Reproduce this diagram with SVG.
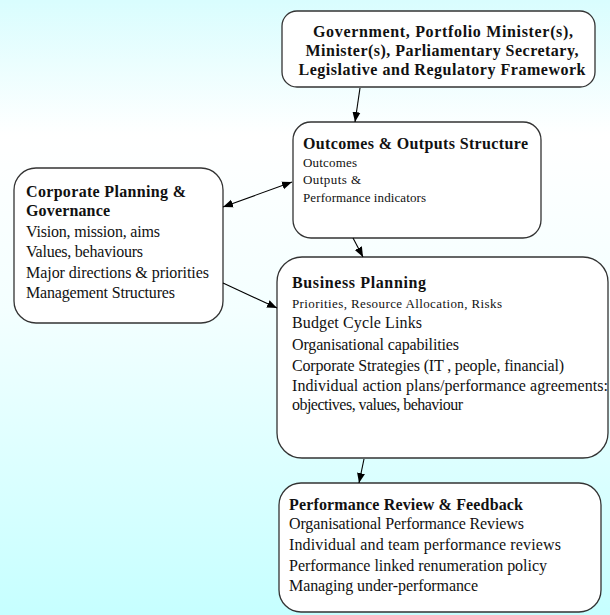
<svg xmlns="http://www.w3.org/2000/svg" width="610" height="615" viewBox="0 0 610 615">
  <defs>
    <linearGradient id="bg" x1="0" y1="0" x2="0" y2="1">
      <stop offset="0" stop-color="#d9fdfe"/>
      <stop offset="0.22" stop-color="#ffffff"/>
      <stop offset="0.5" stop-color="#f4ffff"/>
      <stop offset="0.75" stop-color="#ddffff"/>
      <stop offset="1" stop-color="#c6ffff"/>
    </linearGradient>
    <marker id="head" viewBox="0 0 10 10" refX="10" refY="5" markerWidth="10" markerHeight="10" markerUnits="userSpaceOnUse" orient="auto-start-reverse">
      <path d="M0,1 L10,5 L0,9 Z" fill="#000"/>
    </marker>
    <style>
      .box { fill: #ffffff; stroke: #333333; stroke-width: 1.3; }
      .t { font-family: "Liberation Serif", "Times New Roman", serif; font-size: 16px; fill: #111111; }
      .b { font-weight: bold; }
      .s { font-size: 13px; }
      .link { stroke: #000; stroke-width: 1.1; fill: none; marker-end: url(#head); }
      .both { marker-start: url(#head); }
    </style>
  </defs>

  <rect x="0" y="0" width="610" height="615" fill="url(#bg)"/>

  <g id="government">
    <rect class="box" x="282" y="11" width="313" height="76" rx="15"/>
    <text class="t b" x="443" y="37" text-anchor="middle" textLength="260" lengthAdjust="spacing">Government, Portfolio Minister(s),</text>
    <text class="t b" x="442" y="56" text-anchor="middle" textLength="273" lengthAdjust="spacing">Minister(s), Parliamentary Secretary,</text>
    <text class="t b" x="442" y="75" text-anchor="middle" textLength="287" lengthAdjust="spacing">Legislative and Regulatory Framework</text>
  </g>

  <g id="outcomes">
    <rect class="box" x="293" y="122" width="248" height="116" rx="18"/>
    <text class="t b" x="303" y="149" textLength="225" lengthAdjust="spacing">Outcomes &amp; Outputs Structure</text>
    <text class="t s" x="303" y="167" textLength="54" lengthAdjust="spacing">Outcomes</text>
    <text class="t s" x="303" y="184" textLength="58" lengthAdjust="spacing">Outputs &amp;</text>
    <text class="t s" x="303" y="202" textLength="123" lengthAdjust="spacing">Performance indicators</text>
  </g>

  <g id="corporate">
    <rect class="box" x="14" y="168" width="209" height="155" rx="22"/>
    <text class="t b" x="26" y="197" textLength="160" lengthAdjust="spacing">Corporate Planning &amp;</text>
    <text class="t b" x="26" y="216" textLength="84" lengthAdjust="spacing">Governance</text>
    <text class="t" x="26" y="237" textLength="134" lengthAdjust="spacing">Vision, mission, aims</text>
    <text class="t" x="26" y="257" textLength="117" lengthAdjust="spacing">Values, behaviours</text>
    <text class="t" x="26" y="278" textLength="183" lengthAdjust="spacing">Major directions &amp; priorities</text>
    <text class="t" x="26" y="298" textLength="149" lengthAdjust="spacing">Management Structures</text>
  </g>

  <g id="business">
    <rect class="box" x="277" y="257" width="331" height="201" rx="25"/>
    <text class="t b" x="292" y="288" textLength="134" lengthAdjust="spacing">Business Planning</text>
    <text class="t s" x="292" y="308" textLength="210" lengthAdjust="spacing">Priorities, Resource Allocation, Risks</text>
    <text class="t" x="292" y="328" textLength="130" lengthAdjust="spacing">Budget Cycle Links</text>
    <text class="t" x="292" y="350" textLength="167" lengthAdjust="spacing">Organisational capabilities</text>
    <text class="t" x="292" y="371" textLength="272" lengthAdjust="spacing">Corporate Strategies (IT , people, financial)</text>
    <text class="t" x="292" y="391" textLength="316" lengthAdjust="spacing">Individual action plans/performance agreements:</text>
    <text class="t" x="292" y="410" textLength="171" lengthAdjust="spacing">objectives, values, behaviour</text>
  </g>

  <g id="review">
    <rect class="box" x="279" y="483" width="322" height="129" rx="22"/>
    <text class="t b" x="289" y="510" textLength="234" lengthAdjust="spacing">Performance Review &amp; Feedback</text>
    <text class="t" x="289" y="529" textLength="235" lengthAdjust="spacing">Organisational Performance Reviews</text>
    <text class="t" x="289" y="550" textLength="272" lengthAdjust="spacing">Individual and team performance reviews</text>
    <text class="t" x="289" y="571" textLength="258" lengthAdjust="spacing">Performance linked renumeration policy</text>
    <text class="t" x="289" y="591" textLength="189" lengthAdjust="spacing">Managing under-performance</text>
  </g>

  <g id="connectors">
    <line class="link" x1="360" y1="88" x2="355" y2="122"/>
    <line class="link both" x1="223" y1="207" x2="292" y2="182"/>
    <line class="link" x1="223" y1="283" x2="277" y2="308"/>
    <line class="link" x1="353" y1="238" x2="363" y2="257"/>
    <line class="link" x1="364" y1="459" x2="359" y2="483"/>
  </g>
</svg>
